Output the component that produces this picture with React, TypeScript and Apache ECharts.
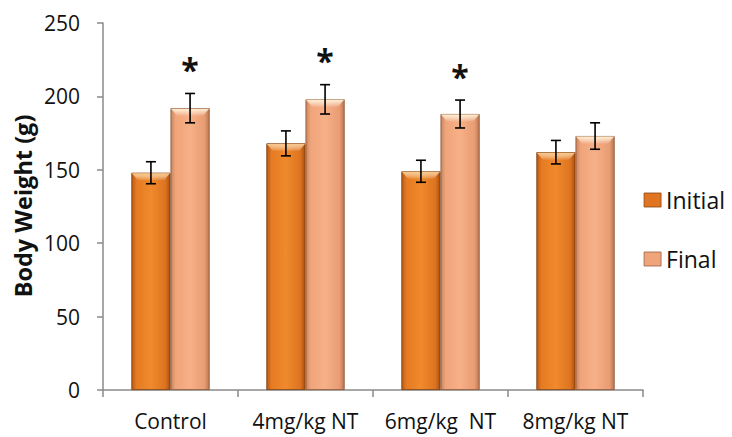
import React, { useEffect, useRef } from "react";
import * as echarts from "echarts";

const categories = ["Control", "4mg/kg NT", "6mg/kg  NT", "8mg/kg NT"];
const initialValues = [148, 168, 149, 162];
const finalValues = [192, 198, 188, 173];
const initialErrors = [7.5, 8.5, 7.5, 8];
const finalErrors = [10, 10, 9.5, 9];
const finalStars = [true, true, true, false];
const yTitle = "Body Weight (g)";

const FONT = "'Open Sans', 'Noto Sans', sans-serif";
const BAR_FRAC = 0.29;

function overlaySeries(name: string, values: number[], errors: number[], stars: boolean[], side: number, bevel: string) {
  return {
    type: "custom",
    name: name + "-err",
    z: 10,
    data: values.map((v, i) => [i, v, errors[i], stars[i] ? 1 : 0]),
    encode: { x: 0, y: 1 },
    renderItem: (params: any, api: any) => {
      const idx = api.value(0);
      const v = api.value(1);
      const e = api.value(2);
      const star = api.value(3);
      const band = api.size([1, 0])[0];
      const bw = band * BAR_FRAC;
      const barTop = api.coord([idx, v]);
      const top = api.coord([idx, v + e]);
      const bot = api.coord([idx, v - e]);
      const x = top[0] + side * bw / 2;
      const cap = 5;
      const style = { stroke: "#000", lineWidth: 1.6 };
      const children: any[] = [
        {
          type: "polygon",
          shape: {
            points: [
              [x - bw / 2 + 0.5, barTop[1] + 0.5],
              [x + bw / 2 - 0.5, barTop[1] + 0.5],
              [x + bw / 2 - 7, barTop[1] + 8],
              [x - bw / 2 + 7, barTop[1] + 8],
            ],
          },
          style: {
            fill: new echarts.graphic.LinearGradient(0, 0, 0, 1, [
              { offset: 0, color: bevel },
              { offset: 1, color: "rgba(255,255,255,0)" },
            ]),
          },
        },
        { type: "line", shape: { x1: x, y1: top[1], x2: x, y2: bot[1] }, style },
        { type: "line", shape: { x1: x - cap, y1: top[1], x2: x + cap, y2: top[1] }, style },
        { type: "line", shape: { x1: x - cap, y1: bot[1], x2: x + cap, y2: bot[1] }, style },
      ];
      if (star) {
        children.push({
          type: "text",
          style: {
            text: "*",
            x: x,
            y: top[1] - 8,
            align: "center",
            verticalAlign: "bottom",
            fontSize: 32,
            fontWeight: "bold",
            fontFamily: FONT,
            fill: "#111",
          },
        });
      }
      return { type: "group", children };
    },
  };
}

export default function App() {
  const ref = useRef<HTMLDivElement>(null);
  useEffect(() => {
    if (!ref.current) return;
    const chart = echarts.init(ref.current, null, { renderer: "svg" });
    const initColor = new echarts.graphic.LinearGradient(0, 0, 1, 0, [
      { offset: 0, color: "#B85A15" },
      { offset: 0.12, color: "#E57A22" },
      { offset: 0.5, color: "#F08A2C" },
      { offset: 0.88, color: "#DD7320" },
      { offset: 1, color: "#A8500F" },
    ]);
    const finalColor = new echarts.graphic.LinearGradient(0, 0, 1, 0, [
      { offset: 0, color: "#C98660" },
      { offset: 0.12, color: "#F0A47A" },
      { offset: 0.5, color: "#F7B088" },
      { offset: 0.88, color: "#E89C72" },
      { offset: 1, color: "#B87652" },
    ]);
    chart.setOption({
      animation: false,
      textStyle: { fontFamily: FONT },
      grid: { left: 103, right: 89, top: 23, bottom: 47 },
      legend: {
        orient: "vertical",
        right: 2,
        top: 183,
        itemWidth: 17,
        itemHeight: 14,
        itemGap: 35,
        icon: "rect",
        data: [
          { name: "Initial", itemStyle: { color: "#E07420", borderColor: "#8a4510", borderWidth: 0.8 } },
          { name: "Final", itemStyle: { color: "#EFA47C", borderColor: "#9a6040", borderWidth: 0.8 } },
        ],
        textStyle: { fontSize: 23, lineHeight: 24, color: "#111", fontFamily: FONT },
      },
      graphic: [
        {
          type: "text",
          x: 23,
          y: 206,
          rotation: Math.PI / 2,
          style: {
            text: yTitle,
            align: "center",
            verticalAlign: "middle",
            fontSize: 23.5,
            fontWeight: "bold",
            fontFamily: FONT,
            fill: "#111",
          },
        },
      ],
      xAxis: {
        type: "category",
        data: categories,
        axisLine: { lineStyle: { color: "#8a8a8a", width: 1.5 } },
        axisTick: { show: true, length: 7, lineStyle: { color: "#8a8a8a", width: 1.5 } },
        axisLabel: { fontSize: 21, color: "#111", margin: 20, interval: 0, fontFamily: FONT },
      },
      yAxis: {
        type: "value",
        min: 0,
        max: 250,
        interval: 50,
        axisLine: { show: true, lineStyle: { color: "#8a8a8a", width: 1.5 } },
        axisTick: { show: true, length: 6, lineStyle: { color: "#8a8a8a", width: 1.5 } },
        splitLine: { show: false },
        axisLabel: {
          fontSize: 21,
          color: "#111",
          margin: 23,
          fontFamily: FONT,
        },
      },
      series: [
        {
          type: "bar",
          name: "Initial",
          data: initialValues,
          barWidth: BAR_FRAC * 100 + "%",
          barGap: "0%",
          itemStyle: { color: initColor, borderColor: "#7a3a0a", borderWidth: 0.8 },
        },
        {
          type: "bar",
          name: "Final",
          data: finalValues,
          barWidth: BAR_FRAC * 100 + "%",
          barGap: "0%",
          itemStyle: { color: finalColor, borderColor: "#8a5030", borderWidth: 0.8 },
        },
        overlaySeries("Initial", initialValues, initialErrors, [false, false, false, false], -1, "#F8C98A"),
        overlaySeries("Final", finalValues, finalErrors, finalStars, 1, "#FFF0D0"),
      ],
    });
    return () => chart.dispose();
  }, []);
  return <div ref={ref} style={{ width: 732, height: 437, position: "absolute", left: 0, top: 0 }} />;
}
